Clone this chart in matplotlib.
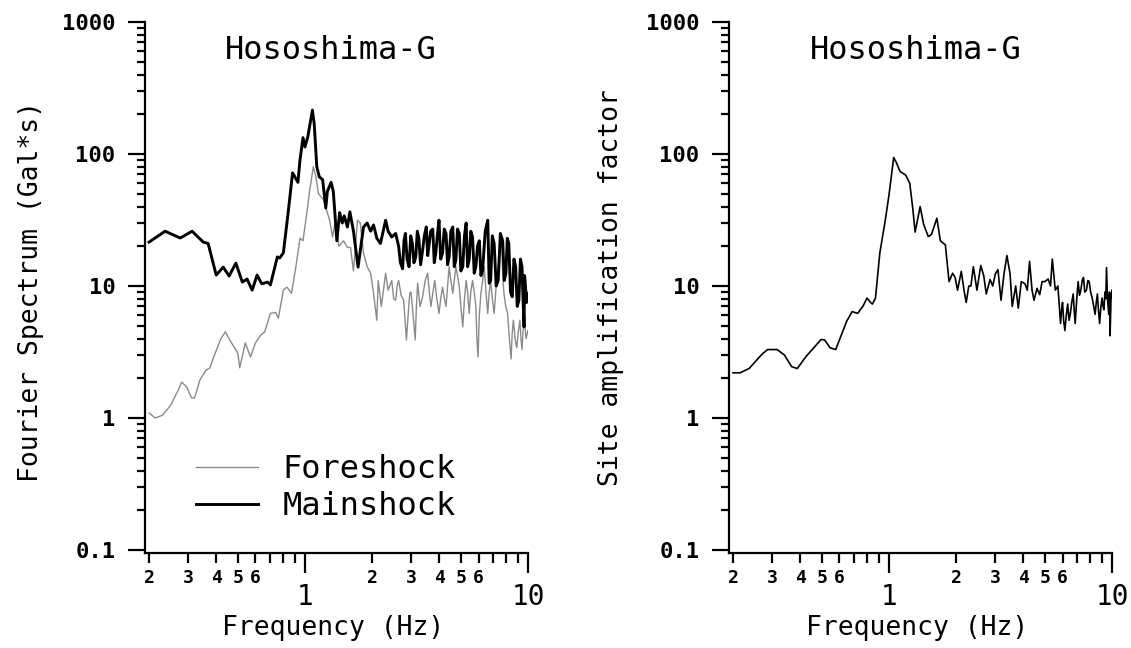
import matplotlib
matplotlib.use("Agg")
import matplotlib.pyplot as plt
from matplotlib.lines import Line2D

plt.rcParams['font.family'] = ['DejaVu Sans Mono', 'DejaVu Sans']

# ---------------- data ----------------
main_f = [0.200, 0.236, 0.276, 0.312, 0.350, 0.368, 0.400, 0.430, 0.457, 0.490,
          0.524, 0.550, 0.580, 0.610, 0.640, 0.680, 0.700, 0.752, 0.770, 0.800,
          0.840, 0.880, 0.910, 0.930, 0.950, 0.980, 1.000, 1.030, 1.080, 1.100,
          1.130, 1.160, 1.200, 1.240, 1.260, 1.310, 1.340, 1.390, 1.430, 1.470,
          1.500, 1.550, 1.590, 1.650, 1.730, 1.830, 1.900, 1.970, 2.030, 2.100,
          2.180, 2.300, 2.360, 2.450, 2.550, 2.630, 2.680, 2.740, 2.780, 2.820,
          2.870, 2.930, 2.980, 3.030, 3.080, 3.140, 3.190, 3.240, 3.300, 3.370,
          3.430, 3.500, 3.550, 3.590, 3.660, 3.740, 3.800, 3.860, 3.920, 3.990,
          4.060, 4.140, 4.210, 4.290, 4.360, 4.430, 4.510, 4.600, 4.670, 4.750,
          4.830, 4.920, 5.000, 5.100, 5.190, 5.280, 5.360, 5.450, 5.540, 5.640,
          5.740, 5.840, 5.940, 6.050, 6.150, 6.260, 6.430, 6.600, 6.700, 6.800,
          6.920, 7.050, 7.200, 7.350, 7.520, 7.700, 7.830, 7.960, 8.080, 8.200,
          8.350, 8.500, 8.650, 8.800, 8.950, 9.100, 9.250, 9.400, 9.500, 9.600,
          9.650, 9.700, 9.850, 10.00]
main_a = [21.5, 26.0, 23.1, 26.0, 21.5, 21.0, 12.1, 13.9, 11.9, 14.9,
          10.7, 11.3, 9.3, 12.1, 10.4, 10.7, 10.2, 16.6, 16.3, 17.8,
          35.5, 72.0, 65.0, 61.0, 90.0, 133.0, 113.0, 135.0, 215.0, 170.0,
          80.0, 67.0, 64.0, 39.0, 52.0, 61.0, 52.0, 22.0, 36.0, 30.0,
          34.0, 28.0, 36.5, 26.0, 13.9, 28.0, 30.0, 26.0, 29.0, 23.0,
          21.0, 31.5, 26.0, 23.5, 25.0, 20.0, 15.0, 13.5, 22.0, 25.0,
          16.0, 14.0, 24.0, 21.0, 15.0, 16.6, 26.0, 23.0, 14.5, 18.7,
          24.0, 28.0, 17.0, 19.6, 26.0, 27.0, 15.0, 17.8, 24.0, 31.5,
          16.0, 17.8, 27.0, 25.0, 14.5, 16.6, 26.0, 28.0, 14.0, 15.8,
          27.0, 25.0, 13.0, 14.0, 24.0, 30.0, 14.0, 15.8, 26.0, 23.5,
          12.5, 14.0, 20.0, 22.0, 12.0, 13.2, 26.0, 31.5, 10.5, 11.0,
          24.0, 21.0, 10.0, 11.0, 25.0, 22.0, 11.0, 12.5, 23.0, 21.0,
          9.0, 8.3, 16.0, 14.0, 7.0, 7.8, 16.0, 14.0, 8.0, 4.9,
          12.0, 11.0, 7.5, 8.8]

fore_f = [0.200, 0.213, 0.230, 0.250, 0.270, 0.280, 0.295, 0.310, 0.320, 0.338,
          0.360, 0.375, 0.390, 0.420, 0.440, 0.460, 0.500, 0.510, 0.540, 0.570,
          0.600, 0.630, 0.660, 0.700, 0.740, 0.760, 0.800, 0.830, 0.870, 0.910,
          0.950, 0.980, 1.020, 1.050, 1.090, 1.120, 1.150, 1.210, 1.260, 1.290,
          1.330, 1.370, 1.420, 1.490, 1.550, 1.600, 1.650, 1.720, 1.770, 1.830,
          1.900, 1.970, 2.030, 2.100, 2.130, 2.200, 2.300, 2.360, 2.450, 2.500,
          2.550, 2.590, 2.630, 2.700, 2.770, 2.810, 2.850, 2.900, 2.950, 2.990,
          3.030, 3.080, 3.120, 3.160, 3.200, 3.280, 3.370, 3.460, 3.550, 3.610,
          3.670, 3.750, 3.820, 3.900, 3.990, 4.060, 4.140, 4.220, 4.290, 4.360,
          4.430, 4.510, 4.600, 4.670, 4.750, 4.830, 4.920, 5.000, 5.100, 5.190,
          5.280, 5.360, 5.450, 5.540, 5.640, 5.740, 5.840, 5.900, 5.970, 6.050,
          6.150, 6.260, 6.360, 6.480, 6.600, 6.700, 6.800, 6.920, 7.050, 7.200,
          7.350, 7.480, 7.600, 7.700, 7.800, 7.950, 8.100, 8.250, 8.400, 8.500,
          8.600, 8.750, 8.900, 9.050, 9.200, 9.300, 9.400, 9.500, 9.600, 9.800,
          10.00]
fore_a = [1.09, 1.00, 1.05, 1.25, 1.62, 1.87, 1.72, 1.42, 1.42, 1.94,
          2.30, 2.40, 2.90, 4.00, 4.50, 3.90, 3.10, 2.40, 3.70, 2.90,
          3.70, 4.20, 4.50, 6.20, 6.30, 5.70, 9.30, 9.80, 8.80, 13.9,
          23.0, 22.0, 36.0, 53.0, 80.0, 67.0, 50.0, 45.0, 36.0, 31.5,
          23.5, 31.5, 20.0, 22.0, 19.6, 19.6, 13.0, 31.5, 30.0, 17.8,
          14.0, 12.5, 8.8, 5.5, 11.0, 7.0, 12.5, 9.3, 11.0, 8.0,
          7.8, 10.0, 11.0, 8.5, 7.8, 5.5, 3.9, 6.0, 8.8, 9.0,
          7.0, 5.0, 3.9, 7.0, 10.5, 7.0, 8.3, 11.0, 12.5, 9.0,
          7.0, 9.0, 11.0, 8.0, 6.2, 8.0, 9.8, 8.0, 7.0, 10.0,
          14.0, 11.0, 8.8, 11.0, 14.0, 12.0, 9.8, 7.0, 4.9, 8.0,
          11.0, 9.0, 6.2, 9.0, 11.0, 9.0, 7.0, 4.0, 2.9, 6.0,
          8.8, 11.0, 14.0, 9.0, 6.2, 9.0, 11.0, 8.0, 6.2, 10.0,
          14.0, 18.0, 25.0, 12.0, 8.8, 7.0, 6.2, 4.0, 2.8, 4.5,
          5.5, 4.0, 3.4, 4.5, 5.5, 4.0, 3.3, 4.5, 6.2, 4.0,
          4.6]

amp_f = [0.200, 0.215, 0.236, 0.270, 0.286, 0.315, 0.340, 0.366, 0.388, 0.426,
         0.460, 0.496, 0.515, 0.545, 0.577, 0.610, 0.646, 0.684, 0.724, 0.767,
         0.797, 0.827, 0.843, 0.870, 0.910, 0.963, 1.000, 1.050, 1.080, 1.120,
         1.190, 1.240, 1.280, 1.310, 1.380, 1.430, 1.500, 1.550, 1.640, 1.700,
         1.790, 1.860, 1.930, 1.980, 2.030, 2.110, 2.170, 2.220, 2.280, 2.330,
         2.390, 2.480, 2.580, 2.660, 2.730, 2.840, 2.920, 3.000, 3.080, 3.180,
         3.280, 3.380, 3.490, 3.570, 3.700, 3.800, 3.920, 4.070, 4.170, 4.270,
         4.380, 4.470, 4.610, 4.740, 4.860, 5.000, 5.170, 5.300, 5.400, 5.570,
         5.720, 5.880, 5.940, 6.000, 6.070, 6.150, 6.240, 6.330, 6.420, 6.500,
         6.600, 6.700, 6.770, 6.840, 6.950, 7.050, 7.150, 7.250, 7.350, 7.450,
         7.550, 7.680, 7.800, 7.900, 8.020, 8.150, 8.280, 8.400, 8.500, 8.600,
         8.700, 8.800, 8.920, 9.030, 9.120, 9.200, 9.300, 9.380, 9.450, 9.550,
         9.670, 9.750, 9.800, 9.900, 10.00]
amp_a = [2.20, 2.20, 2.37, 3.05, 3.30, 3.30, 3.00, 2.45, 2.37, 2.94,
         3.40, 3.93, 3.90, 3.40, 3.30, 4.20, 5.40, 6.40, 6.20, 7.10,
         8.10, 7.50, 7.30, 8.10, 17.8, 31.6, 48.7, 94.0, 86.0, 74.0,
         69.0, 60.0, 38.0, 25.6, 40.0, 29.4, 23.7, 24.5, 32.6, 22.0,
         20.5, 10.8, 12.5, 11.6, 9.3, 12.9, 9.3, 7.5, 10.0, 10.0,
         14.0, 9.3, 14.3, 12.0, 8.7, 11.2, 10.0, 12.4, 13.3, 7.8,
         12.4, 17.0, 12.4, 7.0, 10.0, 6.8, 10.8, 10.4, 9.3, 15.4,
         9.3, 7.8, 9.6, 8.6, 10.8, 10.8, 11.3, 10.0, 16.0, 9.3,
         10.0, 5.2, 6.5, 7.5, 5.5, 4.6, 6.0, 7.3, 5.5, 6.1,
         7.5, 8.7, 6.5, 5.2, 8.0, 10.8, 8.5, 9.3, 11.0, 11.6,
         9.0, 9.3, 11.0, 10.8, 9.0, 8.1, 7.0, 6.1, 7.5, 8.7,
         6.5, 5.2, 7.0, 8.1, 7.0, 6.6, 9.0, 8.0, 13.8, 8.0,
         6.1, 9.0, 4.2, 8.0, 9.3]

station = "Hososhima-G"
series_labels = ["Foreshock", "Mainshock"]
x_label = "Frequency (Hz)"
y_labels = ["Fourier Spectrum (Gal*s)", "Site amplification factor"]

y_major = [0.1, 1, 10, 100, 1000]
y_major_labels = ["0.1", "1", "10", "100", "1000"]
x_major = [1, 10]
x_major_labels = ["1", "10"]
x_minor = [0.2, 0.3, 0.4, 0.5, 0.6, 0.7, 0.8, 0.9, 2, 3, 4, 5, 6, 7, 8, 9]
x_minor_labels = ["2", "3", "4", "5", "6", "", "", "", "2", "3", "4", "5", "6", "", "", ""]
y_minor = [m * d for d in (0.1, 1, 10, 100) for m in range(2, 10)]

# ---------------- figure ----------------
W, H = 1131, 648
fig = plt.figure(figsize=(W / 100, H / 100), dpi=100)

def make_axes(x0px):
    ax = fig.add_axes([x0px / W, 95 / H, 383 / W, 531 / H])
    ax.set_xscale('log')
    ax.set_yscale('log')
    ax.set_xlim(0.1918, 10)
    ax.set_ylim(0.0949, 1000)
    for s in ('top', 'right'):
        ax.spines[s].set_visible(False)
    for s in ('left', 'bottom'):
        ax.spines[s].set_linewidth(1.6)
    ax.set_yticks(y_major, labels=y_major_labels, fontsize=16, fontweight='bold')
    ax.set_yticks(y_minor, labels=[''] * len(y_minor), minor=True)
    ax.set_xticks(x_major, labels=x_major_labels, fontsize=20)
    ax.set_xticks(x_minor, labels=x_minor_labels, minor=True, fontsize=13, fontweight='bold')
    ax.tick_params(axis='y', which='major', length=12.2, width=1.6, pad=9)
    ax.tick_params(axis='y', which='minor', length=5.8, width=1.6)
    ax.tick_params(axis='x', which='major', length=14.4, width=1.6, pad=7)
    ax.tick_params(axis='x', which='minor', length=7.2, width=1.6, pad=4)
    ax.set_xlabel(x_label, fontsize=19, va='baseline')
    ax.xaxis.set_label_coords(0.49, -0.154)
    return ax

ax1 = make_axes(145)
ax1.plot(fore_f, fore_a, color='#8a8a8a', lw=1.0)
ax1.plot(main_f, main_a, color='black', lw=2.1)
ax1.text(0.484, 0.947, station, transform=ax1.transAxes, ha='center', va='center', fontsize=23)
ax1.set_ylabel(y_labels[0], fontsize=19, va='center')
ax1.yaxis.set_label_coords(-0.298, 0.493)
handles = [Line2D([], [], color='#8a8a8a', lw=1.0), Line2D([], [], color='black', lw=2.1)]
ax1.legend(handles, series_labels, loc='center left', bbox_to_anchor=(196 / W, 1 - 488 / H),
           bbox_transform=fig.transFigure, frameon=False, fontsize=23, borderpad=0,
           borderaxespad=0, handlelength=1.95, handletextpad=0.75, labelspacing=0.2)

ax2 = make_axes(729)
ax2.plot(amp_f, amp_a, color='black', lw=1.2)
ax2.text(0.488, 0.947, station, transform=ax2.transAxes, ha='center', va='center', fontsize=23)
ax2.set_ylabel(y_labels[1], fontsize=19, va='center')
ax2.yaxis.set_label_coords(-0.308, 0.499)

fig.savefig("out.png", dpi=100)
